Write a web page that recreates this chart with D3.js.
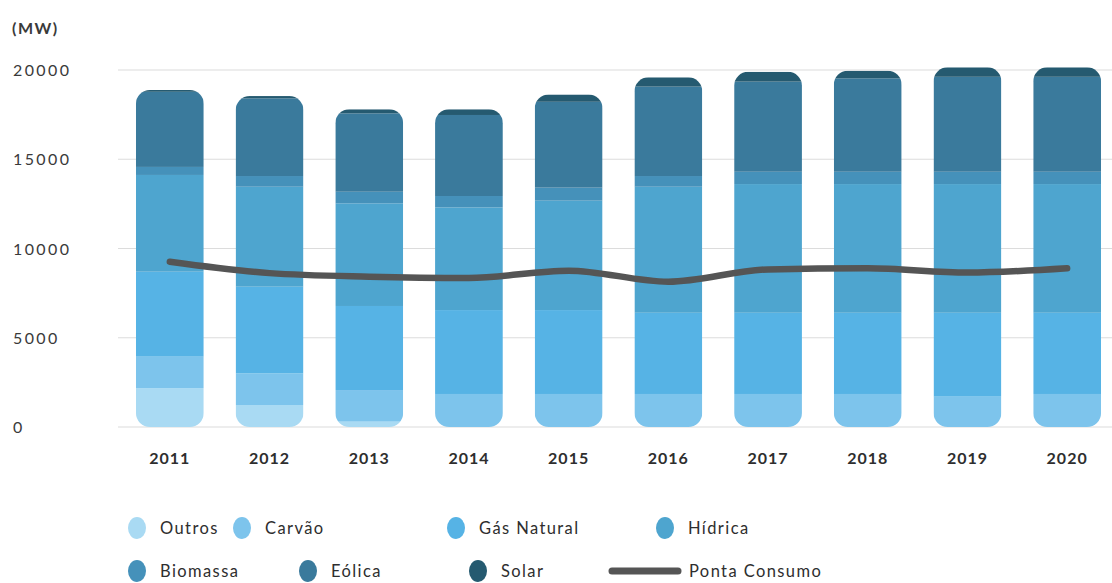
<!DOCTYPE html>
<html>
<head>
<meta charset="utf-8">
<script src="https://cdn.jsdelivr.net/npm/d3@7"></script>
<style>
  body { margin: 0; background: #fff; }
  text { font-family: "Lato", "Open Sans", sans-serif; }
  .tick-label { font-size: 16px; fill: #3a3a3a; letter-spacing: 2.4px; }
  .year-label { font-size: 16px; fill: #2e2e2e; font-weight: bold; letter-spacing: 1px; }
  .legend-label { font-size: 16.5px; fill: #2e2e2e; letter-spacing: 1.4px; }
</style>
</head>
<body>
<div id="chart"></div>
<script>
// Data (MW)
const years = ["2011", "2012", "2013", "2014", "2015", "2016", "2017", "2018", "2019", "2020"];
const outros   = [2180, 1230, 300, 0, 0, 0, 0, 0, 0, 0];
const carvao   = [1760, 1770, 1770, 1850, 1850, 1850, 1850, 1850, 1700, 1850];
const gas      = [4760, 4860, 4710, 4700, 4700, 4550, 4550, 4550, 4700, 4550];
const hidrica  = [5420, 5600, 5750, 5750, 6130, 7060, 7210, 7210, 7210, 7210];
const biomassa = [450, 600, 650, 640, 730, 600, 690, 690, 690, 690];
const eolica   = [4210, 4350, 4390, 4540, 4810, 5010, 5050, 5230, 5320, 5320];
const solar    = [100, 130, 230, 320, 410, 520, 550, 430, 530, 530];
const pontaConsumo = [9260, 8620, 8420, 8350, 8760, 8140, 8830, 8890, 8650, 8890];
const yTicks = [0, 5000, 10000, 15000, 20000];

const seriesNames = ["Outros", "Carvão", "Gás Natural", "Hídrica", "Biomassa", "Eólica", "Solar"];
const seriesValues = [outros, carvao, gas, hidrica, biomassa, eolica, solar];
const colors = ["#a9daf3", "#7dc4ec", "#56b3e5", "#4ea5cf", "#4591ba", "#3a7a9c", "#255a70"];

const width = 1112, height = 583;
const svg = d3.select("#chart").append("svg")
  .attr("width", width)
  .attr("height", height);

// Scales
const x = d3.scaleBand()
  .domain(years)
  .range([120, 1117])
  .paddingInner(0.32)
  .paddingOuter(0.16);

const y = d3.scaleLinear()
  .domain([0, 20000])
  .range([427, 70]);

// Gridlines
svg.append("g")
  .selectAll("line")
  .data(yTicks)
  .join("line")
  .attr("x1", 118)
  .attr("x2", width)
  .attr("y1", d => y(d))
  .attr("y2", d => y(d))
  .attr("stroke", "#dcdcdc")
  .attr("stroke-width", 1.2);

// Y tick labels
svg.append("g")
  .selectAll("text")
  .data(yTicks)
  .join("text")
  .attr("class", "tick-label")
  .attr("x", 13)
  .attr("y", d => y(d) + 6)
  .text(d => d);

svg.append("text")
  .attr("class", "tick-label")
  .attr("x", 12)
  .attr("y", 34)
  .style("font-weight", "bold")
  .style("letter-spacing", "1.5px")
  .text("(MW)");

// Stack the data
const table = years.map((yr, i) => {
  const row = { year: yr };
  seriesNames.forEach((s, j) => { row[s] = seriesValues[j][i]; });
  return row;
});
const stacked = d3.stack().keys(seriesNames)(table);

// Rounded clip per bar
const defs = svg.append("defs");
years.forEach((yr, i) => {
  const total = d3.sum(seriesValues, s => s[i]);
  defs.append("clipPath")
    .attr("id", "clip-" + yr)
    .append("rect")
    .attr("x", x(yr))
    .attr("y", y(total))
    .attr("width", x.bandwidth())
    .attr("height", y(0) - y(total))
    .attr("rx", 14)
    .attr("ry", 14);
});

const barGroups = svg.append("g")
  .selectAll("g")
  .data(years)
  .join("g")
  .attr("clip-path", d => `url(#clip-${d})`);

barGroups.each(function (yr, i) {
  d3.select(this).selectAll("rect")
    .data(stacked)
    .join("rect")
    .attr("x", x(yr))
    .attr("width", x.bandwidth())
    .attr("y", s => y(s[i][1]))
    .attr("height", s => y(s[i][0]) - y(s[i][1]))
    .attr("fill", (s, j) => colors[j]);
});

// Year labels
svg.append("g")
  .selectAll("text")
  .data(years)
  .join("text")
  .attr("class", "year-label")
  .attr("text-anchor", "middle")
  .attr("x", d => x(d) + x.bandwidth() / 2)
  .attr("y", 464)
  .text(d => d);

// Ponta Consumo line
const line = d3.line()
  .x((d, i) => x(years[i]) + x.bandwidth() / 2)
  .y(d => y(d))
  .curve(d3.curveMonotoneX);

svg.append("path")
  .datum(pontaConsumo)
  .attr("fill", "none")
  .attr("stroke", "#555555")
  .attr("stroke-width", 6.5)
  .attr("stroke-linecap", "round")
  .attr("d", line);

// Legend
const legendItems = [
  { name: "Outros", cx: 137, cy: 528 },
  { name: "Carvão", cx: 242, cy: 528 },
  { name: "Gás Natural", cx: 456, cy: 528 },
  { name: "Hídrica", cx: 665, cy: 528 },
  { name: "Biomassa", cx: 137, cy: 571 },
  { name: "Eólica", cx: 308, cy: 571 },
  { name: "Solar", cx: 478, cy: 571 }
];

const legend = svg.append("g");
legendItems.forEach((d, i) => {
  legend.append("ellipse")
    .attr("cx", d.cx)
    .attr("cy", d.cy)
    .attr("rx", 9)
    .attr("ry", 11)
    .attr("fill", colors[i]);
  legend.append("text")
    .attr("class", "legend-label")
    .attr("x", d.cx + 23)
    .attr("y", d.cy + 6)
    .text(d.name);
});

legend.append("line")
  .attr("x1", 612)
  .attr("x2", 678)
  .attr("y1", 571)
  .attr("y2", 571)
  .attr("stroke", "#555555")
  .attr("stroke-width", 7)
  .attr("stroke-linecap", "round");

legend.append("text")
  .attr("class", "legend-label")
  .attr("x", 689)
  .attr("y", 577)
  .text("Ponta Consumo");
</script>
</body>
</html>
